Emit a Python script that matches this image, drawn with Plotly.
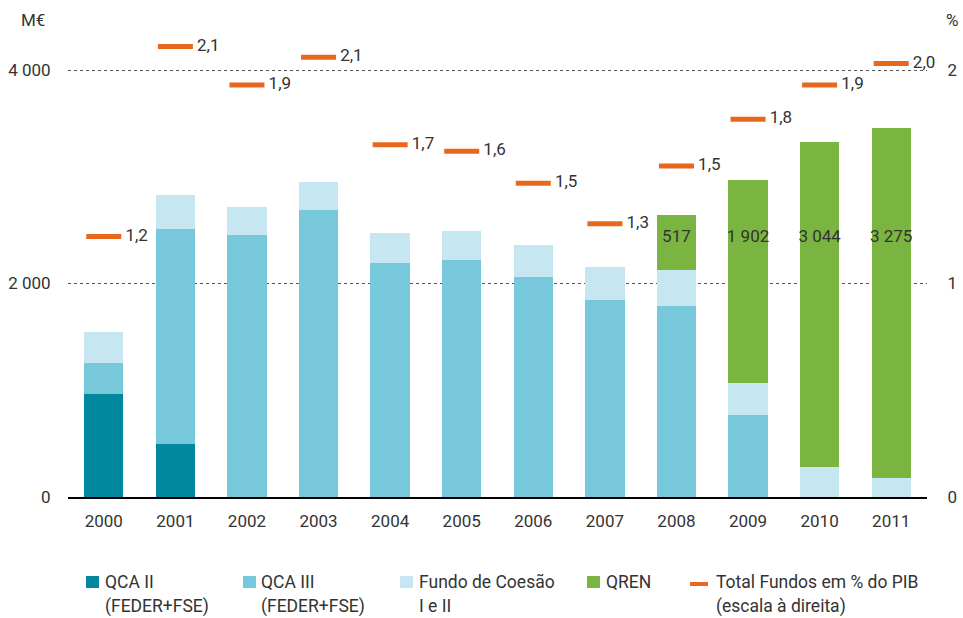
import plotly.graph_objects as go

years = ["2000", "2001", "2002", "2003", "2004", "2005", "2006", "2007", "2008", "2009", "2010", "2011"]
qca2 = [965, 500, 0, 0, 0, 0, 0, 0, 0, 0, 0, 0]
qca3 = [290, 2010, 2455, 2690, 2190, 2220, 2060, 1845, 1789, 768, 0, 0]
fundo = [290, 320, 265, 260, 280, 270, 300, 310, 337, 300, 281, 178]
qren = [0, 0, 0, 0, 0, 0, 0, 0, 517, 1902, 3044, 3275]
qren_labels = ["", "", "", "", "", "", "", "", "517", "1 902", "3 044", "3 275"]
pib = [1.22, 2.11, 1.93, 2.06, 1.65, 1.62, 1.47, 1.28, 1.55, 1.77, 1.93, 2.03]
pib_labels = ["1,2", "2,1", "1,9", "2,1", "1,7", "1,6", "1,5", "1,3", "1,5", "1,8", "1,9", "2,0"]
QREN_LABEL_LEVEL = 2430

C_QCA2 = "#01889e"
C_QCA3 = "#78c8dc"
C_FUNDO = "#c6e7f1"
C_QREN = "#7bb541"
C_LINE = "#e8671c"
TXT = "#333333"
FONT = "Roboto"
FS = 17

fig = go.Figure()
for name, vals, col in [("QCA II (FEDER+FSE)", qca2, C_QCA2),
                        ("QCA III (FEDER+FSE)", qca3, C_QCA3),
                        ("Fundo de Coesão I e II", fundo, C_FUNDO),
                        ("QREN", qren, C_QREN)]:
    fig.add_trace(go.Bar(x=years, y=vals, name=name, marker=dict(color=col, line=dict(width=0)),
                         showlegend=False, hoverinfo="x+y+name"))

# QREN value labels
fig.add_trace(go.Scatter(x=years, y=[QREN_LABEL_LEVEL] * len(years), mode="text", text=qren_labels,
                         textposition="middle center", textfont=dict(family=FONT, size=FS, color=TXT),
                         showlegend=False, hoverinfo="skip"))

# % of GDP dashes
fig.add_trace(go.Scatter(x=years, y=pib, yaxis="y2", mode="markers", name="Total Fundos em % do PIB",
                         marker=dict(symbol="line-ew", size=25, line=dict(color=C_LINE, width=5), color=C_LINE),
                         showlegend=False, cliponaxis=False))
# their labels (invisible wider marker to offset the text)
fig.add_trace(go.Scatter(x=years, y=pib, yaxis="y2", mode="markers+text", text=pib_labels,
                         textposition="middle right", marker=dict(size=33, opacity=0),
                         textfont=dict(family=FONT, size=FS, color=TXT), showlegend=False,
                         hoverinfo="skip", cliponaxis=False))

L, R, T, B = 68, 927, 38, 497
def px(xp):
    return (xp - L) / (R - L)
def py(yp):
    return (B - yp) / (B - T)

shapes = []
annots = []
legend_items = [
    (86, "sq", C_QCA2, ["QCA II", "(FEDER+FSE)"], 103),
    (243, "sq", C_QCA3, ["QCA III", "(FEDER+FSE)"], 259),
    (400, "sq", C_FUNDO, ["Fundo de Coesão", "I e II"], 417),
    (587, "sq", C_QREN, ["QREN"], 604),
    (690, "ln", C_LINE, ["Total Fundos em % do PIB", "(escala à direita)"], 714),
]
for x0, kind, col, lines, tx in legend_items:
    if kind == "sq":
        shapes.append(dict(type="rect", xref="paper", yref="paper", x0=px(x0), x1=px(x0 + 13),
                           y0=py(588), y1=py(576), fillcolor=col, line=dict(width=0)))
    else:
        shapes.append(dict(type="rect", xref="paper", yref="paper", x0=px(x0), x1=px(x0 + 18),
                           y0=py(586), y1=py(582), fillcolor=col, line=dict(width=0)))
    for i, t in enumerate(lines):
        annots.append(dict(xref="paper", yref="paper", x=px(tx), y=py(582 + 24 * i), text=t,
                           xanchor="left", yanchor="middle", showarrow=False,
                           font=dict(family=FONT, size=17.5, color=TXT)))

annots.append(dict(xref="paper", yref="paper", x=px(33), y=py(20), text="M€", showarrow=False,
                   xanchor="center", yanchor="middle", font=dict(family=FONT, size=FS, color=TXT)))
annots.append(dict(xref="paper", yref="paper", x=px(952), y=py(20), text="%", showarrow=False,
                   xanchor="center", yanchor="middle", font=dict(family=FONT, size=FS, color=TXT)))

for a in annots:
    fig.add_annotation(**a)

fig.update_layout(
    width=963, height=618,
    margin=dict(l=L, r=963 - R, t=T, b=618 - B, autoexpand=False),
    barmode="stack", bargap=0.45,
    plot_bgcolor="white", paper_bgcolor="white",
    separators=", ",
    font=dict(family=FONT, size=FS, color=TXT),
    shapes=shapes,
    xaxis=dict(type="category", range=[-0.5, 11.5], showline=True, linecolor="black", linewidth=2,
               ticks="outside", ticklen=8, automargin=False,
               tickcolor="rgba(0,0,0,0)", tickfont=dict(family=FONT, size=FS, color=TXT)),
    yaxis=dict(range=[0, 4300], tickvals=[0, 2000, 4000], tickformat=",d", showgrid=True,
               gridcolor="#555555", griddash="dot", gridwidth=1, zeroline=False, automargin=False,
               ticks="outside", ticklen=13, tickcolor="rgba(0,0,0,0)",
               tickfont=dict(family=FONT, size=FS, color=TXT)),
    yaxis2=dict(range=[0, 2.15], tickvals=[0, 1, 2], overlaying="y", side="right", showgrid=False,
                zeroline=False, ticks="outside", ticklen=16, tickcolor="rgba(0,0,0,0)", automargin=False,
                tickfont=dict(family=FONT, size=FS, color=TXT)),
    showlegend=False,
)

fig.write_html("out.html", post_script="document.body.style.margin='0';",
               config={"displayModeBar": False})
